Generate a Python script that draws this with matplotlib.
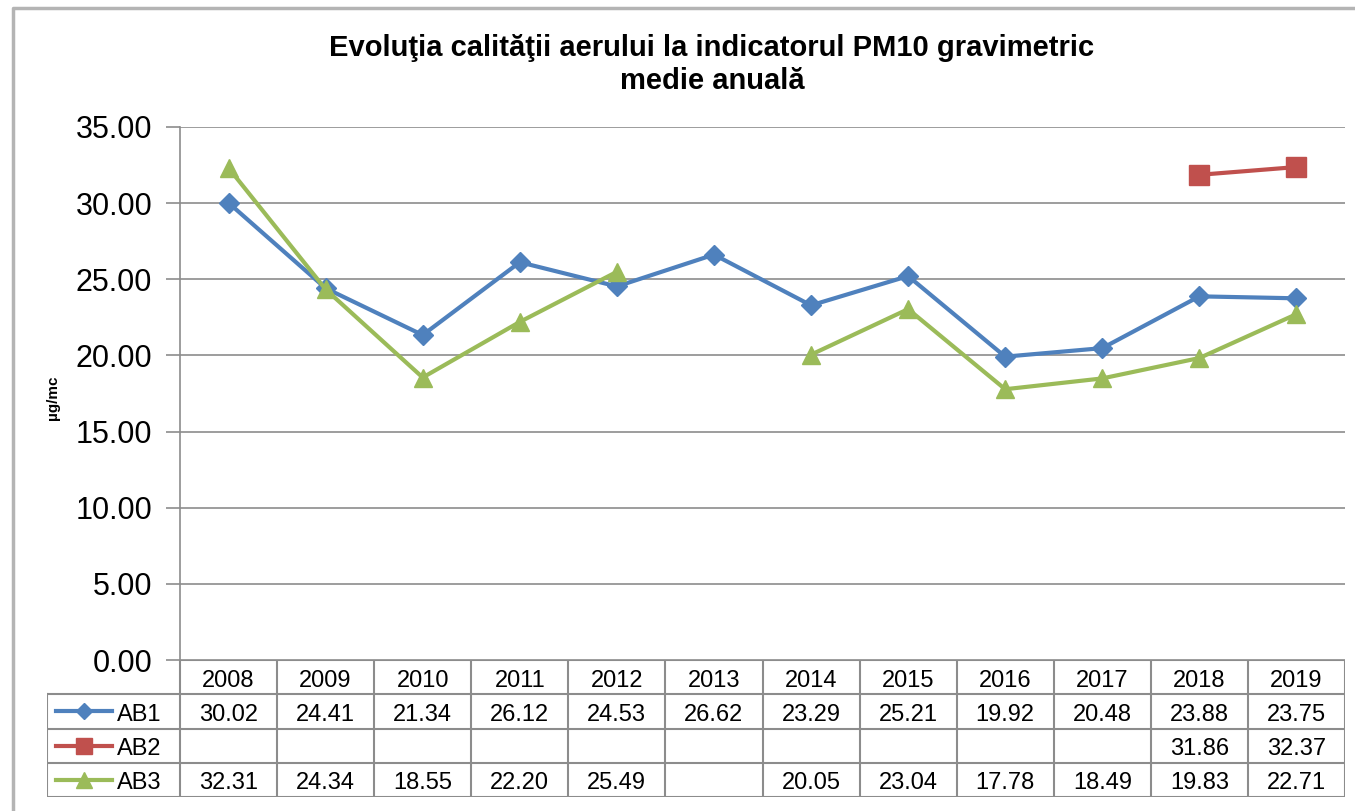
import matplotlib.pyplot as plt
import numpy as np
from matplotlib.lines import Line2D

plt.rcParams['font.family'] = ['Liberation Sans', 'DejaVu Sans']

# date
ani = ['2008', '2009', '2010', '2011', '2012', '2013', '2014', '2015', '2016', '2017', '2018', '2019']
nan = np.nan
ab1 = [30.02, 24.41, 21.34, 26.12, 24.53, 26.62, 23.29, 25.21, 19.92, 20.48, 23.88, 23.75]
ab2 = [nan, nan, nan, nan, nan, nan, nan, nan, nan, nan, 31.86, 32.37]
ab3 = [32.31, 24.34, 18.55, 22.20, 25.49, nan, 20.05, 23.04, 17.78, 18.49, 19.83, 22.71]
serii = ['AB1', 'AB2', 'AB3']

culori = ['#4F81BD', '#C0504D', '#9BBB59']
markere = [('D', 10), ('s', 14), ('^', 13)]
gri = '#8c8c8c'

W, H = 1355, 811
fig = plt.figure(figsize=(W / 100, H / 100), dpi=100)

# chenar exterior (doar sus si stanga se vad)
fig.lines.append(Line2D([13 / W, 13 / W, 1], [0, 1 - 8 / H, 1 - 8 / H],
                        transform=fig.transFigure, color='#b4b4b4', lw=2.5))

fig.text(712 / W, 1 - 48 / H, 'Evoluţia calităţii aerului la indicatorul PM10 gravimetric',
         ha='center', va='center', fontsize=21, fontweight='bold')
fig.text(712 / W, 1 - 81 / H, 'medie anuală',
         ha='center', va='center', fontsize=21, fontweight='bold')

x0, x1 = 180, 1345
ax = fig.add_axes([x0 / W, 1 - 660 / H, (x1 - x0) / W, 533 / H])
x = np.arange(len(ani))
for vals, c, (m, ms) in zip([ab1, ab2, ab3], culori, markere):
    ax.plot(x, vals, color=c, lw=3, marker=m, ms=ms, mec=c, mfc=c, zorder=3)

ax.set_xlim(-0.5, len(ani) - 0.5)
ax.set_ylim(0, 35)
ax.set_yticks(np.arange(0, 36, 5))
ax.set_yticklabels(['%.2f' % v for v in np.arange(0, 36, 5)], fontsize=22)
ax.set_xticks([])
ax.grid(axis='y', color=gri, lw=1.2)
for s in ['top', 'right', 'bottom']:
    ax.spines[s].set_visible(False)
ax.spines['left'].set_color(gri)
ax.spines['left'].set_linewidth(1.2)
ax.tick_params(axis='y', length=10, width=1.2, color=gri, pad=10)
fig.text(53 / W, 1 - 398 / H, 'µg/mc', rotation=90, ha='center', va='center',
         fontsize=11, fontweight='bold')

# tabel de date
colw = (x1 - x0) / len(ani)
xmin = -0.5 - (x0 - 47) / colw
tax = fig.add_axes([47 / W, 1 - 797 / H, (x1 - 47) / W, 137 / H])
tax.set_xlim(xmin, len(ani) - 0.5)
tax.set_ylim(4, 0)
tax.axis('off')

tax.plot([-0.5, len(ani) - 0.5], [0, 0], color=gri, lw=1.5)
for r in range(1, 5):
    tax.plot([xmin, len(ani) - 0.5], [r, r], color=gri, lw=1.5)
for k in range(len(ani) + 1):
    tax.plot([k - 0.5, k - 0.5], [0, 4], color=gri, lw=1.5)
tax.plot([xmin, xmin], [1, 4], color=gri, lw=1.5)

dy = 0.6
for i, an in enumerate(ani):
    tax.text(i, dy, an, ha='center', va='center', fontsize=17)
for r, (nume, vals, c, (m, ms)) in enumerate(zip(serii, [ab1, ab2, ab3], culori, markere), start=1):
    for i, v in enumerate(vals):
        if not np.isnan(v):
            tax.text(i, r + dy, '%.2f' % v, ha='center', va='center', fontsize=17)
    k0 = xmin + 9 / colw
    k1 = xmin + 65 / colw
    tax.plot([k0, k1], [r + 0.5, r + 0.5], color=c, lw=3)
    tax.plot([(k0 + k1) / 2], [r + 0.5], marker=m, ms=ms * 0.85, color=c, mec=c)
    tax.text(xmin + 70 / colw, r + dy, nume, ha='left', va='center', fontsize=17)

fig.savefig('out.png', dpi=100)
